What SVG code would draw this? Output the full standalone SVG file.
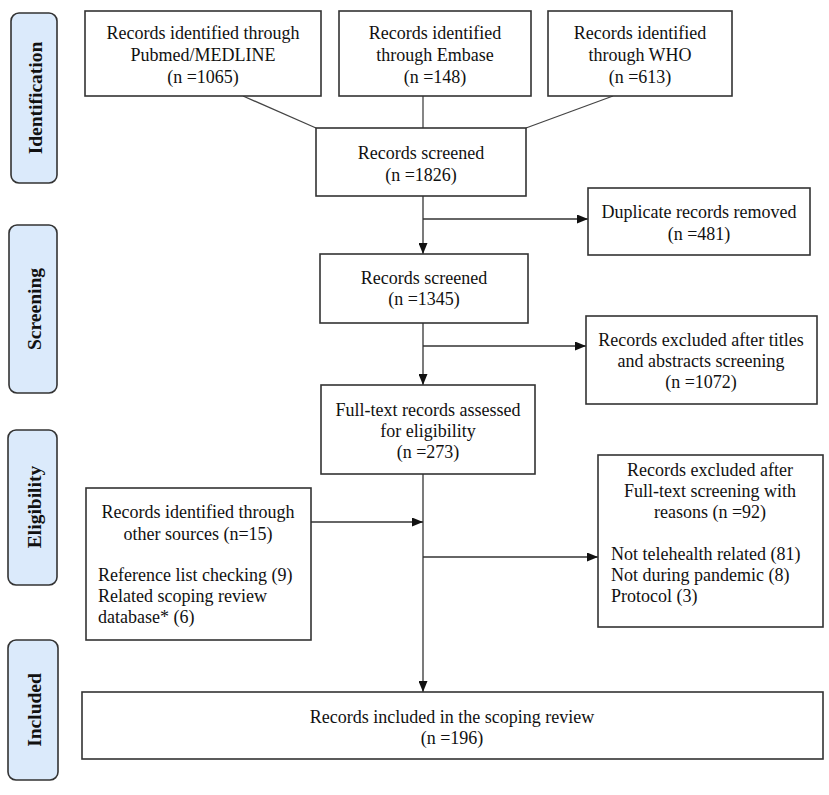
<svg xmlns="http://www.w3.org/2000/svg" width="829" height="795" viewBox="0 0 829 795">
<defs>
<marker id="arr" markerUnits="userSpaceOnUse" markerWidth="11" markerHeight="9" refX="11" refY="4.5" orient="auto">
<path d="M0,0 L11,4.5 L0,9 z" fill="#111"/>
</marker>
<style>
.box{fill:#fff;stroke:#333;stroke-width:1.6}
.side{fill:#dbeafb;stroke:#333;stroke-width:1.6}
.t{font-family:"Liberation Serif","Times New Roman",serif;font-size:18px;fill:#111;text-anchor:middle}
.l{font-family:"Liberation Serif","Times New Roman",serif;font-size:18px;fill:#111;text-anchor:start}
.s{font-family:"Liberation Serif","Times New Roman",serif;font-size:19.5px;font-weight:bold;fill:#111;text-anchor:middle}
.c{stroke:#444;stroke-width:1.3;fill:none}
.a{stroke:#333;stroke-width:1.3;fill:none;marker-end:url(#arr)}
</style>
</defs>
<rect width="829" height="795" fill="#fff"/>
<g id="side-identification">
<rect class="side" x="11" y="13" width="46" height="170" rx="8"/>
<text class="s" transform="translate(35.5,98) rotate(-90)" y="6.5">Identification</text>
</g>
<g id="side-screening">
<rect class="side" x="9" y="225" width="48" height="168" rx="8"/>
<text class="s" transform="translate(34.5,309) rotate(-90)" y="6.5">Screening</text>
</g>
<g id="side-eligibility">
<rect class="side" x="8" y="430" width="49" height="155" rx="8"/>
<text class="s" transform="translate(34,507) rotate(-90)" y="6.5">Eligibility</text>
</g>
<g id="side-included">
<rect class="side" x="8" y="640" width="50" height="140" rx="8"/>
<text class="s" transform="translate(34.5,710) rotate(-90)" y="6.5">Included</text>
</g>
<g id="connectors">
<line class="c" x1="243" y1="96" x2="316" y2="128"/>
<line class="c" x1="423" y1="96" x2="423" y2="128"/>
<line class="c" x1="613" y1="96" x2="526" y2="128"/>
<line class="a" x1="423" y1="196" x2="423" y2="254"/>
<line class="a" x1="423" y1="219" x2="588" y2="219"/>
<line class="a" x1="423" y1="323" x2="423" y2="385"/>
<line class="a" x1="423" y1="346" x2="586" y2="346"/>
<line class="a" x1="423" y1="474" x2="423" y2="692"/>
<line class="a" x1="311" y1="522" x2="423" y2="522"/>
<line class="a" x1="423" y1="557" x2="598" y2="557"/>
</g>
<g id="pubmed">
<rect class="box" x="85" y="11" width="236" height="85"/>
<text class="t" x="203" y="39">Records identified through</text>
<text class="t" x="203" y="61">Pubmed/MEDLINE</text>
<text class="t" x="203" y="83">(n =1065)</text>
</g>
<g id="embase">
<rect class="box" x="339" y="11" width="192" height="85"/>
<text class="t" x="435" y="39">Records identified</text>
<text class="t" x="435" y="61">through Embase</text>
<text class="t" x="435" y="83">(n =148)</text>
</g>
<g id="who">
<rect class="box" x="548" y="11" width="184" height="85"/>
<text class="t" x="640" y="39">Records identified</text>
<text class="t" x="640" y="61">through WHO</text>
<text class="t" x="640" y="83">(n =613)</text>
</g>
<g id="screened1826">
<rect class="box" x="316" y="128" width="210" height="68"/>
<text class="t" x="421" y="159">Records screened</text>
<text class="t" x="421" y="181">(n =1826)</text>
</g>
<g id="duplicates">
<rect class="box" x="588" y="188" width="222" height="67"/>
<text class="t" x="699" y="218">Duplicate records removed</text>
<text class="t" x="699" y="240">(n =481)</text>
</g>
<g id="screened1345">
<rect class="box" x="320" y="254" width="208" height="69"/>
<text class="t" x="424" y="284">Records screened</text>
<text class="t" x="424" y="305">(n =1345)</text>
</g>
<g id="excluded-titles">
<rect class="box" x="586" y="316" width="231" height="88"/>
<text class="t" x="701" y="346">Records excluded after titles</text>
<text class="t" x="701" y="367">and abstracts screening</text>
<text class="t" x="701" y="388">(n =1072)</text>
</g>
<g id="fulltext">
<rect class="box" x="321" y="385" width="214" height="89"/>
<text class="t" x="428" y="416">Full-text records assessed</text>
<text class="t" x="428" y="437">for eligibility</text>
<text class="t" x="428" y="458">(n =273)</text>
</g>
<g id="other-sources">
<rect class="box" x="86" y="488" width="225" height="152"/>
<text class="t" x="198" y="518">Records identified through</text>
<text class="t" x="198" y="540">other sources (n=15)</text>
<text class="l" x="98" y="581">Reference list checking (9)</text>
<text class="l" x="98" y="602">Related scoping review</text>
<text class="l" x="98" y="623">database* (6)</text>
</g>
<g id="excluded-fulltext">
<rect class="box" x="598" y="455" width="225" height="172"/>
<text class="t" x="710" y="476">Records excluded after</text>
<text class="t" x="710" y="497">Full-text screening with</text>
<text class="t" x="710" y="518">reasons (n =92)</text>
<text class="l" x="611" y="560">Not telehealth related (81)</text>
<text class="l" x="611" y="581">Not during pandemic (8)</text>
<text class="l" x="611" y="602">Protocol (3)</text>
</g>
<g id="included">
<rect class="box" x="82" y="692" width="741" height="67"/>
<text class="t" x="452" y="723">Records included in the scoping review</text>
<text class="t" x="452" y="744">(n =196)</text>
</g>
</svg>
